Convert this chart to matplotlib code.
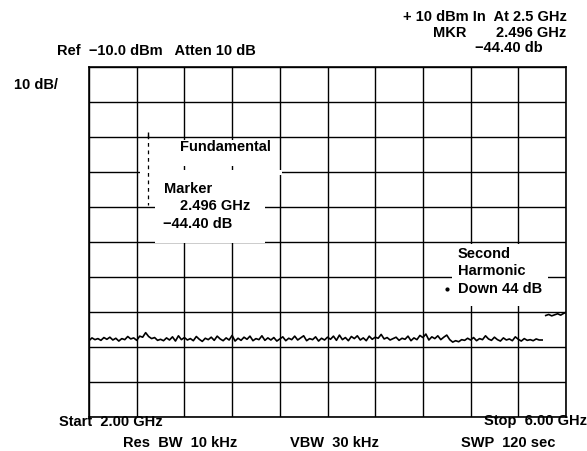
import numpy as np
import matplotlib.pyplot as plt
from matplotlib.patches import Rectangle

plt.rcParams['font.family'] = ['Liberation Sans', 'DejaVu Sans']

# 频谱数据 (GHz, dBm)
freq_start = 2.0
freq_stop = 6.0
ref_level = -10.0
db_per_div = 10

noise_freq = [2.000, 2.025, 2.050, 2.075, 2.100, 2.125, 2.150, 2.175, 2.200, 2.225,
              2.250, 2.275, 2.300, 2.325, 2.350, 2.375, 2.400, 2.425, 2.450, 2.475,
              2.500, 2.525, 2.550, 2.575, 2.600, 2.625, 2.650, 2.675, 2.700, 2.725,
              2.750, 2.775, 2.800, 2.825, 2.850, 2.875, 2.900, 2.925, 2.950, 2.975,
              3.000, 3.025, 3.050, 3.075, 3.100, 3.125, 3.150, 3.175, 3.200, 3.225,
              3.250, 3.275, 3.300, 3.325, 3.350, 3.375, 3.400, 3.425, 3.450, 3.475,
              3.500, 3.525, 3.550, 3.575, 3.600, 3.625, 3.650, 3.675, 3.700, 3.725,
              3.750, 3.775, 3.800, 3.825, 3.850, 3.875, 3.900, 3.925, 3.950, 3.975,
              4.000, 4.025, 4.050, 4.075, 4.100, 4.125, 4.150, 4.175, 4.200, 4.225,
              4.250, 4.275, 4.300, 4.325, 4.350, 4.375, 4.400, 4.425, 4.450, 4.475,
              4.500, 4.525, 4.550, 4.575, 4.600, 4.625, 4.650, 4.675, 4.700, 4.725,
              4.750, 4.775, 4.800, 4.825, 4.850, 4.875, 4.900, 4.925, 4.950, 4.975,
              5.000, 5.025, 5.050, 5.075, 5.100, 5.125, 5.150, 5.175, 5.200, 5.225,
              5.250, 5.275, 5.300, 5.325, 5.350, 5.375, 5.400, 5.425, 5.450, 5.475,
              5.500, 5.525, 5.550, 5.575, 5.600, 5.625, 5.650, 5.675, 5.700, 5.725,
              5.750, 5.775, 5.800]
noise_dbm = [-88.2, -87.4, -87.9, -87.6, -88.1, -87.3, -87.8, -87.2, -88.0, -87.5,
             -88.3, -87.6, -87.9, -87.0, -87.7, -87.4, -88.1, -86.9, -87.2, -85.9,
             -87.0, -87.6, -87.3, -88.1, -87.8, -88.2, -87.4, -88.0, -87.1, -88.3,
             -86.8, -87.9, -87.3, -88.0, -87.6, -88.2, -87.0, -87.8, -88.4, -87.5,
             -87.9, -87.2, -88.1, -86.9, -87.7, -88.2, -87.4, -88.0, -86.7, -88.3,
             -87.5, -88.1, -87.2, -87.8, -86.9, -88.2, -87.6, -87.9, -86.8, -88.1,
             -87.4, -88.0, -87.3, -88.3, -87.7, -87.1, -88.2, -87.5, -87.9, -86.9,
             -88.0, -87.4, -86.8, -88.2, -87.6, -87.9, -87.1, -88.3, -87.5, -88.0,
             -87.2, -87.8, -86.9, -88.1, -86.6, -87.9, -87.3, -88.2, -87.0, -87.6,
             -86.8, -88.0, -87.4, -88.2, -86.9, -87.8, -87.2, -87.5, -86.4, -87.7,
             -87.3, -88.0, -87.6, -87.2, -88.1, -87.5, -87.8, -86.9, -88.2, -87.4,
             -87.9, -86.7, -87.3, -86.3, -88.0, -87.1, -87.6, -86.8, -87.9, -87.2,
             -86.6, -87.9, -88.6, -88.2, -88.5, -87.9, -88.1, -87.5, -88.0, -87.3,
             -88.2, -87.6, -87.9, -86.8, -87.7, -88.1, -87.2, -87.9, -88.3, -87.4,
             -88.0, -87.7, -88.2, -87.1, -87.8, -88.3, -87.6, -88.1, -87.9, -88.2,
             -87.7, -88.0, -88.0]

high_freq = [5.830, 5.855, 5.880, 5.905, 5.930, 5.955, 5.980, 6.000]
high_dbm = [-81.0, -80.7, -81.1, -80.8, -80.5, -80.9, -80.4, -80.1]

marker_freq = 2.496
marker_top = -29.4
marker_bottom = -49.4
harmonic_freq = 5.0
harmonic_dbm = -73.4

W, H = 587, 451
fig = plt.figure(figsize=(W / 100, H / 100), dpi=100)
fig.patch.set_facecolor('white')

left, right, top, bottom = 89, 566, 67, 417
ax = fig.add_axes([left / W, 1 - bottom / H, (right - left) / W, (bottom - top) / H])
ax.set_xlim(freq_start, freq_stop)
ax.set_ylim(ref_level - 10 * db_per_div, ref_level)
ax.set_xticks(np.linspace(freq_start, freq_stop, 11))
ax.set_yticks(np.arange(ref_level - 10 * db_per_div, ref_level + 1, db_per_div))
ax.tick_params(length=0, labelbottom=False, labelleft=False)
ax.grid(True, color='black', linewidth=1.0)
for s in ax.spines.values():
    s.set_linewidth(1.2)
ax.set_axisbelow(True)

# 文字区域遮住网格线 (x0, y_top, x1, y_bottom)
for (x0, y0, x1, y1) in [(2.68, -30.8, 3.585, -38.3),
                         (2.43, -39.4, 3.62, -40.8),
                         (2.553, -40.9, 3.476, -60.3),
                         (5.044, -60.6, 5.849, -78.3)]:
    ax.add_patch(Rectangle((x0, y1), x1 - x0, y0 - y1, facecolor='white',
                           edgecolor='none', zorder=1.5))

# 迹线
ax.plot(noise_freq, noise_dbm, color='black', linewidth=1.2, zorder=3)
ax.plot(high_freq, high_dbm, color='black', linewidth=1.2, zorder=3)
ax.plot([marker_freq, marker_freq], [marker_top, marker_bottom], color='black',
        linewidth=0.9, linestyle=(0, (3, 3)), zorder=3)
ax.plot([marker_freq], [marker_top], marker='|', color='black', markersize=4, zorder=3)
ax.plot([harmonic_freq], [harmonic_dbm], marker='o', color='black', markersize=2, zorder=3)

fs = 10.5
kw = dict(fontsize=fs, fontweight='bold', color='black', zorder=4)
ax.text(2.763, -32.9, 'Fundamental', va='center', **kw)
ax.text(2.63, -44.9, 'Marker', va='center', **kw)
ax.text(2.76, -49.7, '2.496 GHz', va='center', **kw)
ax.text(2.62, -54.9, '\u221244.40 dB', va='center', **kw)
ax.text(5.095, -63.4, 'Second', va='center', **kw)
ax.text(5.095, -68.3, 'Harmonic', va='center', **kw)
ax.text(5.095, -73.4, 'Down 44 dB', va='center', **kw)


def ftext(x, y, s, ha='left'):
    fig.text(x / W, 1 - y / H, s, ha=ha, va='center', fontsize=fs, fontweight='bold')


ftext(57, 51, 'Ref  \u221210.0 dBm   Atten 10 dB')
ftext(14, 85, '10 dB/')
ftext(567, 17, '+ 10 dBm In  At 2.5 GHz', ha='right')
ftext(433, 33, 'MKR')
ftext(566, 33, '2.496 GHz', ha='right')
ftext(543, 48, '\u221244.40 db', ha='right')
ftext(59, 422, 'Start  2.00 GHz')
ftext(587, 421, 'Stop  6.00 GHz', ha='right')
ftext(123, 443, 'Res  BW  10 kHz')
ftext(290, 443, 'VBW  30 kHz')
ftext(461, 443, 'SWP  120 sec')

fig.savefig('out.png', dpi=100)
